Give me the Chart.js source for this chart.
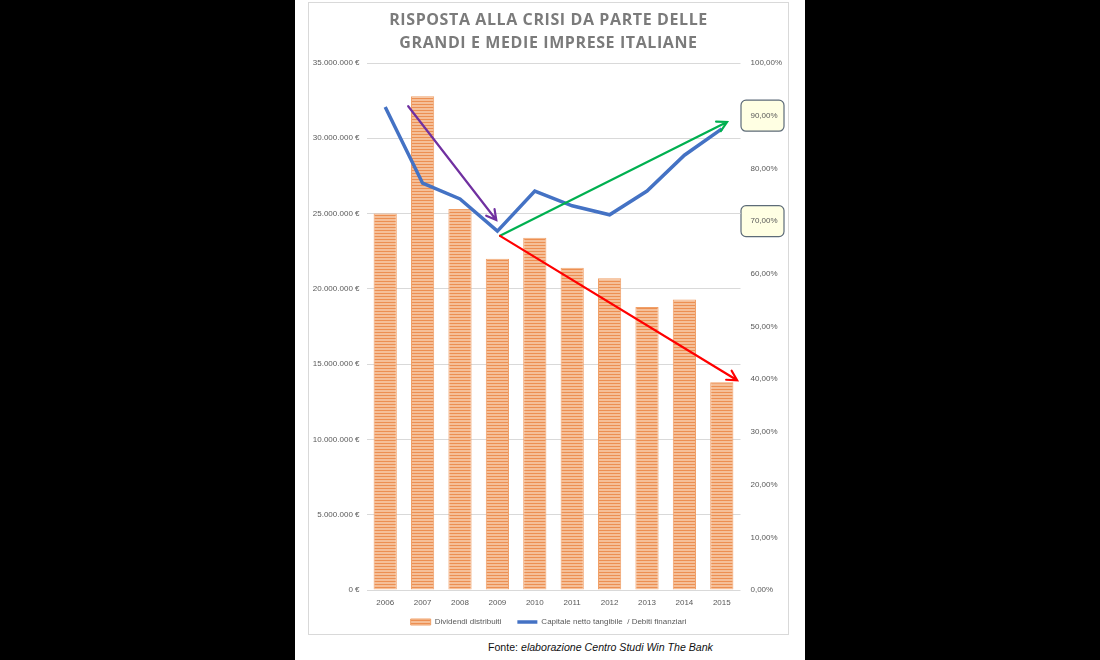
<!DOCTYPE html>
<html lang="it">
<head>
<meta charset="UTF-8">
<title>Risposta alla crisi</title>
<script src="https://cdn.jsdelivr.net/npm/chart.js"></script>
<style>
  body { margin: 0; background: #000; width: 1100px; height: 660px; overflow: hidden; }
  #paper { position: absolute; left: 295px; top: 0; width: 510px; height: 660px; background: #fff; }
  #frame { position: absolute; left: 13px; top: 2px; width: 481px; height: 633px; border: 1px solid #d9d9d9; box-sizing: border-box; }
  #chartBox { position: absolute; left: 0; top: 0; width: 479px; height: 633px; }
  #title { position: absolute; left: 0; top: 5px; width: 479px; text-align: center;
           font: bold 16px "Open Sans", sans-serif; line-height: 23px; letter-spacing: 0.6px; color: #7b7b7b; }
  #fonte { position: absolute; left: 193px; top: 641px; font: 10.6px "Liberation Sans", sans-serif; color: #111; white-space: nowrap; }
</style>
</head>
<body>
<div id="paper">
  <div id="frame">
    <div id="chartBox"><canvas id="crisiChart"></canvas></div>
    <div id="title">RISPOSTA ALLA CRISI DA PARTE DELLE<br>GRANDI E MEDIE IMPRESE ITALIANE</div>
  </div>
  <div id="fonte">Fonte: <i>elaborazione Centro Studi Win The Bank</i></div>
</div>

<script>
const years = ['2006', '2007', '2008', '2009', '2010', '2011', '2012', '2013', '2014', '2015'];
const dividendi = [25000000, 32800000, 25300000, 22000000, 23400000, 21400000, 20700000, 18800000, 19300000, 13800000];
const capitaleSuDebiti = [0.9165, 0.772, 0.742, 0.681, 0.757, 0.729, 0.712, 0.757, 0.825, 0.875];
const highlightedTicks = [0.9, 0.7];

// trend arrows: [fromIndex, fromPct, toIndex, toPct, colour]
const trendArrows = [
  [0.615, 0.918, 2.97, 0.702, '#7030a0'],
  [3.07, 0.672, 9.14, 0.888, '#00b050'],
  [3.07, 0.672, 9.41, 0.398, '#ff0000']
];

function stripePattern() {
  const c = document.createElement('canvas');
  c.width = 4; c.height = 3;
  const g = c.getContext('2d');
  g.fillStyle = '#f5bf98';
  g.fillRect(0, 0, 4, 2);
  g.fillStyle = '#ec8f52';
  g.fillRect(0, 2, 4, 1);
  return g.createPattern(c, 'repeat');
}

function euro(v) {
  return String(v).replace(/\B(?=(\d{3})+(?!\d))/g, '.') + ' €';
}

function pct(v) {
  return (v * 100).toFixed(2).replace('.', ',') + '%';
}

function drawArrow(ctx, x1, y1, x2, y2, color) {
  const a = Math.atan2(y2 - y1, x2 - x1);
  const len = 11, spread = 0.5;
  ctx.save();
  ctx.strokeStyle = color;
  ctx.lineWidth = 2.2;
  ctx.lineCap = 'round';
  ctx.beginPath();
  ctx.moveTo(x1, y1);
  ctx.lineTo(x2, y2);
  ctx.moveTo(x2 - len * Math.cos(a - spread), y2 - len * Math.sin(a - spread));
  ctx.lineTo(x2, y2);
  ctx.lineTo(x2 - len * Math.cos(a + spread), y2 - len * Math.sin(a + spread));
  ctx.stroke();
  ctx.restore();
}

const extras = {
  id: 'extras',
  afterLayout(chart) {
    // let the year labels spill below the (thin) x axis box without being clipped
    const x = chart.scales.x;
    x.bottom = x.top + 24;
  },
  beforeDraw(chart) {
    // yellow callout boxes behind the 90% and 70% labels
    const ctx = chart.ctx, yr = chart.scales.yr, area = chart.chartArea;
    ctx.save();
    highlightedTicks.forEach(v => {
      const y = yr.getPixelForValue(v);
      ctx.beginPath();
      ctx.roundRect(area.right + 0.5, y - 15.5, 43, 31, 5);
      ctx.fillStyle = '#ffffe3';
      ctx.fill();
      ctx.strokeStyle = '#5d6b78';
      ctx.lineWidth = 1.2;
      ctx.stroke();
    });
    ctx.restore();
  },
  afterDatasetsDraw(chart) {
    const ctx = chart.ctx, x = chart.scales.x, yr = chart.scales.yr;
    trendArrows.forEach(([i1, p1, i2, p2, col]) => {
      drawArrow(ctx, x.getPixelForValue(i1), yr.getPixelForValue(p1),
                x.getPixelForValue(i2), yr.getPixelForValue(p2), col);
    });
  }
};

const tickFont = { family: 'Liberation Sans', size: 8 };

new Chart(document.getElementById('crisiChart'), {
  type: 'bar',
  data: {
    labels: years,
    datasets: [
      {
        label: 'Dividendi distribuiti',
        data: dividendi,
        backgroundColor: stripePattern(),
        borderColor: '#f0a068',
        borderWidth: 1,
        barPercentage: 0.62,
        categoryPercentage: 1,
        pointStyle: 'rect',
        yAxisID: 'y',
        order: 2
      },
      {
        type: 'line',
        label: 'Capitale netto tangibile  / Debiti finanziari',
        data: capitaleSuDebiti,
        borderColor: '#4472c4',
        backgroundColor: '#4472c4',
        borderWidth: 3.5,
        pointRadius: 0,
        pointStyle: 'line',
        tension: 0,
        yAxisID: 'yr',
        order: 1
      }
    ]
  },
  options: {
    responsive: true,
    maintainAspectRatio: false,
    animation: false,
    layout: { padding: { top: 60, left: 0, right: 0, bottom: 0 } },
    plugins: {
      title: { display: false },
      tooltip: { enabled: false },
      legend: {
        position: 'bottom',
        labels: {
          usePointStyle: true,
          pointStyleWidth: 20,
          boxHeight: 6,
          padding: 16,
          color: '#595959',
          font: { family: 'Liberation Sans', size: 8 },
          sort: (a, b) => a.datasetIndex - b.datasetIndex
        }
      }
    },
    scales: {
      x: {
        grid: { display: false, drawTicks: false },
        border: { display: false },
        ticks: { color: '#595959', font: tickFont, padding: 8 },
        afterFit(s) { s.height = 12; }
      },
      y: {
        position: 'left',
        min: 0,
        max: 35000000,
        ticks: { stepSize: 5000000, color: '#595959', font: tickFont, padding: 7, callback: euro },
        grid: { color: '#d9d9d9', drawTicks: false },
        border: { display: false },
        afterFit(s) { s.width = 57.5; }
      },
      yr: {
        position: 'right',
        min: 0,
        max: 1,
        ticks: { stepSize: 0.1, color: '#595959', font: tickFont, padding: 10, callback: pct },
        grid: { display: false, drawTicks: false },
        border: { display: false },
        afterFit(s) { s.width = 47.5; }
      }
    }
  },
  plugins: [extras]
});
</script>
</body>
</html>
